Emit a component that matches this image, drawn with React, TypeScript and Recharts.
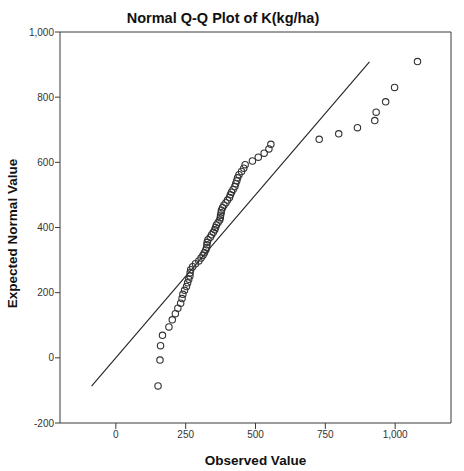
import React from 'react';
import { ScatterChart, Scatter, XAxis, YAxis, ReferenceLine } from 'recharts';

// Observed values (sorted) of K(kg/ha)
const observed: number[] = [
  151, 158, 160, 167, 190, 202, 213, 222, 232, 237,
  240, 246, 253, 257, 261, 265, 266, 268, 275, 285,
  297, 305, 312, 317, 322, 325, 326, 327, 330, 338,
  343, 349, 354, 357, 360, 366, 372, 374, 375, 377,
  378, 382, 387, 394, 400, 407, 410, 414, 420, 426,
  429, 433, 436, 441, 450, 458, 463, 489, 510, 531,
  548, 555, 728, 798, 865, 927, 932, 966, 998, 1080,
];

// Expected normal values
const expected: number[] = [
  -86.2, -7.0, 37.3, 69.2, 94.8, 116.5, 135.4, 152.4, 167.7, 181.8,
  195.0, 207.2, 218.9, 230.1, 240.8, 251.1, 260.9, 270.4, 279.6, 288.7,
  297.5, 306.1, 314.5, 322.7, 330.9, 338.8, 346.8, 354.6, 362.4, 370.1,
  377.7, 385.3, 392.8, 400.2, 407.7, 415.3, 422.8, 430.2, 437.7, 445.3,
  452.9, 460.6, 468.4, 476.2, 484.2, 492.1, 500.3, 508.5, 516.9, 525.5,
  534.3, 543.4, 552.6, 562.1, 571.9, 582.2, 592.9, 604.1, 615.8, 628.0,
  641.2, 655.3, 670.6, 687.6, 706.5, 728.2, 753.8, 785.7, 830.0, 909.2,
];

const xTicks: number[] = [0, 250, 500, 750, 1000];
const yTicks: number[] = [-200, 0, 200, 400, 600, 800, 1000];
const xDomain: [number, number] = [-200, 1200];
const yDomain: [number, number] = [-200, 1000];
const lineStart = -87;
const lineEnd = 908;

const data = observed.map((x, i) => ({ x, y: expected[i] }));

const FONT = '"Liberation Sans", Arial, sans-serif';
const AXIS = '#3a3a3a';

const fmt = (v: number) => v.toLocaleString('en-US');

const OpenCircle = (props: any) => {
  const { cx, cy } = props;
  if (cx == null || cy == null) return null;
  return <circle cx={cx} cy={cy} r={3.2} fill="none" stroke="#333" strokeWidth={1.1} />;
};

export default function App() {
  return (
    <div style={{ position: 'absolute', left: 0, top: 0, width: 464, height: 471, background: '#fff' }}>
      <div
        style={{
          position: 'absolute',
          left: 0,
          top: 10,
          width: 446,
          textAlign: 'center',
          fontFamily: FONT,
          fontWeight: 'bold',
          fontSize: 14.5,
          lineHeight: '17px',
          color: '#111',
        }}
      >
        Normal Q-Q Plot of K(kg/ha)
      </div>
      <ScatterChart width={464} height={471} margin={{ top: 32, right: 13, bottom: 0, left: 0 }}>
        <XAxis
          type="number"
          dataKey="x"
          domain={xDomain}
          ticks={xTicks}
          tickFormatter={fmt}
          allowDataOverflow
          height={48}
          stroke={AXIS}
          tickSize={6}
          tickMargin={2}
          tick={{ fontSize: 10, fill: '#333', fontFamily: FONT }}
          label={{
            content: (p: any) => {
              const vb = p.viewBox || {};
              return (
                <text
                  x={vb.x + vb.width / 2}
                  y={vb.y + 42}
                  textAnchor="middle"
                  fontFamily={FONT}
                  fontWeight="bold"
                  fontSize={13.5}
                  fill="#111"
                >
                  Observed Value
                </text>
              );
            },
          }}
        />
        <YAxis
          type="number"
          dataKey="y"
          domain={yDomain}
          ticks={yTicks}
          tickFormatter={fmt}
          allowDataOverflow
          width={60}
          stroke={AXIS}
          tickSize={5}
          tickMargin={1}
          tick={{ fontSize: 10, fill: '#333', fontFamily: FONT }}
          label={{
            content: (p: any) => {
              const vb = p.viewBox || {};
              const cx = 17;
              const cy = vb.y + vb.height / 2 + 6;
              return (
                <text
                  x={cx}
                  y={cy}
                  transform={`rotate(-90, ${cx}, ${cy})`}
                  textAnchor="middle"
                  fontFamily={FONT}
                  fontWeight="bold"
                  fontSize={13.5}
                  fill="#111"
                >
                  Expected Normal Value
                </text>
              );
            },
          }}
        />
        <ReferenceLine y={yDomain[1]} stroke={AXIS} strokeWidth={1} />
        <ReferenceLine x={xDomain[1]} stroke={AXIS} strokeWidth={1} />
        <ReferenceLine
          segment={[
            { x: lineStart, y: lineStart },
            { x: lineEnd, y: lineEnd },
          ]}
          stroke="#222"
          strokeWidth={1.1}
        />
        <Scatter data={data} shape={OpenCircle} isAnimationActive={false} />
      </ScatterChart>
    </div>
  );
}
